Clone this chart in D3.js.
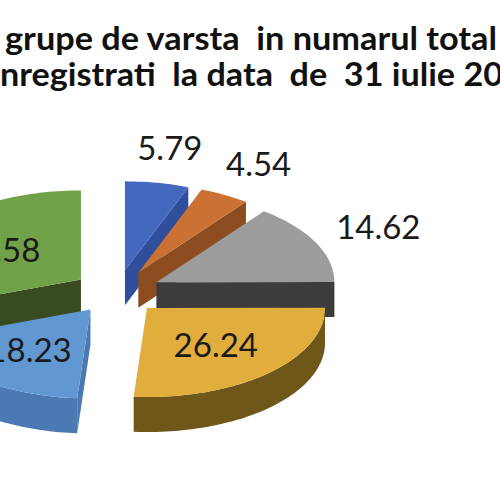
<!DOCTYPE html>
<html><head><meta charset="utf-8">
<script src="https://cdn.jsdelivr.net/npm/d3@7"></script>
<style>html,body{margin:0;padding:0;background:#fff;overflow:hidden}</style>
</head><body>
<svg id="c" width="500" height="500" xmlns="http://www.w3.org/2000/svg"></svg>
<script>
// ---- data ----
const categories = ["Grupa 1", "Grupa 2", "Grupa 3", "Grupa 4", "Grupa 5", "Grupa 6"];
const values = [5.79, 4.54, 14.62, 26.24, 18.23, 30.58];
const valueLabels = ["5.79", "4.54", "14.62", "26.24", "18.23", "30.58"];
const titleLines = ["grupe de varsta  in numarul total", "nregistrati  la data  de  31 iulie 20"];

// ---- style ----
const topColors  = ["#4468bd", "#cb7133", "#9c9c9c", "#e1ad3c", "#6198d2", "#72a248"];
const sideColors = ["#2f4f9c", "#8c4c20", "#3c3c3c", "#6e5719", "#4b79b3", "#384c20"];

const cx = 117, cy = 292, R = 178, explode = 44, depth = 35, tilt = 0.5;

const svg = d3.select("#c");

// projection scales (world units -> screen)
const xS = d3.scaleLinear().domain([-R, R]).range([cx - R, cx + R]);
const yS = d3.scaleLinear().domain([-R, R]).range([cy + R * tilt, cy - R * tilt]);

const arcs = d3.pie().sort(null).value(d => d).startAngle(0).endAngle(2 * Math.PI)(values);
arcs.forEach(a => {
  a.mid = (a.startAngle + a.endAngle) / 2;
  a.ox = explode * Math.sin(a.mid);
  a.oy = explode * Math.cos(a.mid);
});

function pt(a, r, ang, z) {
  return [xS(a.ox + r * Math.sin(ang)), yS(a.oy + r * Math.cos(ang)) + z];
}
function arcPts(a, a0, a1, z) {
  const n = Math.max(2, Math.ceil((a1 - a0) / (Math.PI / 120)));
  return d3.range(n + 1).map(k => pt(a, R, a0 + (a1 - a0) * k / n, z));
}
const line = d3.line();

const order = arcs.slice().sort((p, q) => Math.cos(q.mid) - Math.cos(p.mid));

order.forEach(a => {
  const i = a.index;
  const g = svg.append("g");
  const a0 = a.startAngle, a1 = a.endAngle;
  const faces = [];
  if (Math.sin(a0) < -1e-3) faces.push([pt(a, 0, a0, 0), pt(a, R, a0, 0), pt(a, R, a0, depth), pt(a, 0, a0, depth)]);
  if (Math.sin(a1) > 1e-3) faces.push([pt(a, 0, a1, 0), pt(a, R, a1, 0), pt(a, R, a1, depth), pt(a, 0, a1, depth)]);
  faces.forEach(f => g.append("path").attr("d", line(f) + "Z").attr("fill", sideColors[i]));
  const b0 = Math.max(a0, Math.PI / 2), b1 = Math.min(a1, 3 * Math.PI / 2);
  if (b1 > b0) {
    const w = arcPts(a, b0, b1, 0).concat(arcPts(a, b0, b1, depth).reverse());
    g.append("path").attr("d", line(w) + "Z").attr("fill", sideColors[i]);
  }
  const top = [pt(a, 0, 0, 0)].concat(arcPts(a, a0, a1, 0));
  g.append("path").attr("d", line(top) + "Z").attr("fill", topColors[i]);
});

// labels
arcs.forEach(a => {
  const r = values[a.index] < 15 ? 292 : 145;
  svg.append("text")
    .attr("x", xS(r * Math.sin(a.mid)))
    .attr("y", yS(r * Math.cos(a.mid)))
    .attr("dy", "0.36em")
    .attr("text-anchor", "middle")
    .attr("font-family", "Lato, 'Open Sans', sans-serif")
    .attr("font-size", 33)
    .attr("fill", "#1a1a1a")
    .text(valueLabels[a.index]);
});

// title (cropped)
const tx = [5, 0], ty = [50, 86], tw = [492, 503];
titleLines.forEach((t, k) => {
  svg.append("text")
    .attr("x", tx[k]).attr("y", ty[k])
    .attr("font-family", "Lato, 'Open Sans', sans-serif")
    .attr("font-weight", 700)
    .attr("font-size", 32)
    .attr("fill", "#111")
    .attr("textLength", tw[k])
    .attr("lengthAdjust", "spacingAndGlyphs")
    .style("white-space", "pre")
    .text(t);
});
</script>
</body></html>
